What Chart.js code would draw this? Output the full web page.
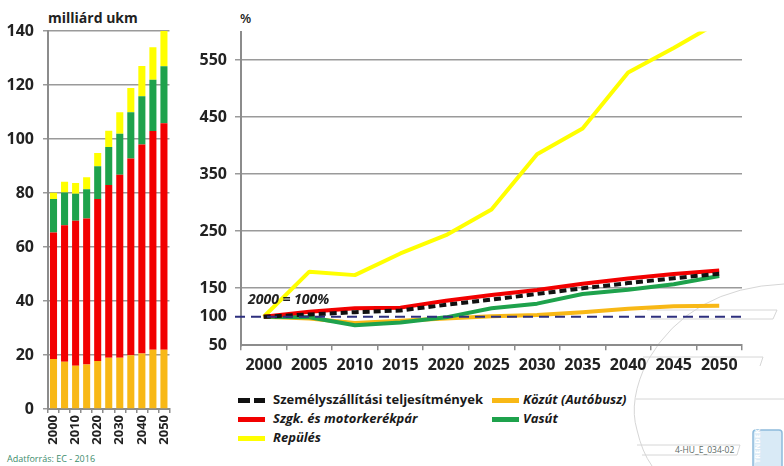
<!DOCTYPE html>
<html>
<head>
<meta charset="utf-8">
<script src="https://cdn.jsdelivr.net/npm/chart.js@4.4.1/dist/chart.umd.min.js"></script>
<style>
  body { margin: 0; background: #fff; font-family: "Open Sans", sans-serif; }
  #wrap { position: relative; width: 784px; height: 466px; overflow: hidden; }
  #barBox { position: absolute; left: 0; top: 0; width: 182px; height: 460px; }
  #lineBox { position: absolute; left: 190px; top: 0; width: 560px; height: 380px; }
  .note { position: absolute; white-space: nowrap; color: #222; }
  .leg { position: absolute; height: 18px; line-height: 18px; font-size: 13px; font-weight: 700; color: #1a1a1a; white-space: nowrap; }
  .leg i { font-style: italic; }
  .sw { position: absolute; left: 0; top: 7px; width: 27px; height: 5px; }
  .leg span.t { position: absolute; top: -1px; }
  #decor { position: absolute; left: 0; top: 0; }
</style>
</head>
<body>
<div id="wrap">
  <svg id="decor" width="784" height="466">
    <g fill="none" stroke="#d6d6d6" stroke-width="1">
      <path d="M 784 284 Q 690 288 648 360 Q 628 400 637 430 Q 642 452 652 466"/>
      <path d="M 647 310 L 777 310 L 773 319 L 650 319"/>
      <path d="M 643 357 L 763 357 L 760 366"/>
      <path d="M 636 399 L 784 399"/>
      <path d="M 637 445 L 740 445 L 737 455 L 642 455"/>
    </g>
    <rect x="753" y="430" width="29" height="40" rx="3" fill="#d9eaf6" stroke="#8dbbdc" stroke-width="1.5"/>
    <text x="0" y="0" transform="translate(760 463) rotate(-90)" font-family="Open Sans" font-size="7" font-weight="700" fill="#ffffff" letter-spacing="0.3">TRENDEK</text>
  </svg>

  <div class="note" style="left:48px; top:8px; font-size:14px; font-weight:700;">milliárd ukm</div>
  <div class="note" style="left:240px; top:9px; font-size:13px; font-weight:600;">%</div>
  <div class="note" style="left:7px; top:452px; font-size:9px; color:#3d8c6c;">Adatforrás: EC - 2016</div>
  <div class="note" style="left:675px; top:444px; font-size:8.5px; color:#5d6b66;">4-HU_E_034-02</div>

  <div id="barBox"><canvas id="barChart"></canvas></div>
  <div id="lineBox"><canvas id="lineChart"></canvas></div>

  <div class="leg" style="left:238px; top:391px;"><div class="sw" style="background:linear-gradient(90deg,#111 0 12px,transparent 12px 16px,#111 16px 27px);"></div><span class="t" style="left:35px;">Személyszállítási teljesítmények</span></div>
  <div class="leg" style="left:492px; top:391px;"><div class="sw" style="background:#f8b816;"></div><span class="t" style="left:31px;"><i>Közút (Autóbusz)</i></span></div>
  <div class="leg" style="left:238px; top:410px;"><div class="sw" style="background:#f20000;"></div><span class="t" style="left:35px;"><i>Szgk. és motorkerékpár</i></span></div>
  <div class="leg" style="left:492px; top:410px;"><div class="sw" style="background:#1ea24c;"></div><span class="t" style="left:31px;"><i>Vasút</i></span></div>
  <div class="leg" style="left:238px; top:429px;"><div class="sw" style="background:#ffff00;"></div><span class="t" style="left:35px;"><i>Repülés</i></span></div>
</div>

<script>
const years = ['2000', '2005', '2010', '2015', '2020', '2025', '2030', '2035', '2040', '2045', '2050'];

// left panel, billion passenger-km (stacked)
const busKm = [18.5, 17.5, 16, 16.5, 17.8, 19, 19, 19.9, 20.6, 21.9, 21.9];
const carKm = [46.9, 50.6, 53.7, 54.1, 60, 64, 67.8, 72.9, 77.4, 81.1, 83.9];
const railKm = [12.4, 12.1, 10, 10.8, 12.1, 14, 15.1, 17.1, 17.8, 18.9, 21.1];
const airKm = [2.3, 4, 4, 4.4, 4.9, 6.1, 8, 9, 11.2, 12.1, 13.1];

// right panel, index 2000 = 100%
const totalIdx = [100, 104, 108, 111, 121, 130, 140, 150, 159, 167.5, 175.5];
const carIdx = [100, 109, 115, 116, 128, 138, 147, 158, 167, 175, 181];
const railIdx = [100, 99, 85, 90, 99, 115, 123, 140, 147.5, 157, 171.5];
const busIdx = [100, 97, 89, 93, 97, 101, 103, 108, 114, 118.5, 119.5];
const airIdx = [100, 179, 173, 211, 243, 288, 385, 430, 528, 571, 617];

const pctTicks = [50, 100, 150, 250, 350, 450, 550];
const baseValue = 100;

const YELLOW = '#ffff00', RED = '#f20000', GREEN = '#1ea24c', ORANGE = '#f8b816';
const AXIS = '#8c8c8c', GRID = '#9a9a9a', TXT = '#222';

Chart.defaults.font.family = '"Open Sans", sans-serif';
Chart.defaults.color = TXT;
Chart.defaults.animation = false;

// ---- left: stacked bars ----
new Chart(document.getElementById('barChart'), {
  type: 'bar',
  data: {
    labels: years,
    datasets: [
      { label: 'Közút', data: busKm, backgroundColor: ORANGE },
      { label: 'Szgk.', data: carKm, backgroundColor: RED },
      { label: 'Vasút', data: railKm, backgroundColor: GREEN },
      { label: 'Repülés', data: airKm, backgroundColor: YELLOW }
    ]
  },
  options: {
    responsive: true,
    maintainAspectRatio: false,
    layout: { padding: { top: 31, right: 10, left: 0, bottom: 0 } },
    datasets: { bar: { barPercentage: 0.64, categoryPercentage: 1 } },
    plugins: { legend: { display: false }, tooltip: { enabled: false } },
    scales: {
      x: {
        stacked: true,
        afterFit: function(s) { s.height = 51; },
        border: { color: AXIS, width: 2 },
        grid: { drawOnChartArea: false, tickLength: 4, color: AXIS, lineWidth: 1.5 },
        ticks: {
          autoSkip: false, minRotation: 90, maxRotation: 90, padding: 2,
          font: { size: 13, weight: 'bold' },
          callback: function(v, i) { return i % 2 === 0 ? years[i] : ''; }
        }
      },
      y: {
        stacked: true,
        min: 0, max: 140,
        afterFit: function(s) { s.width = 48; },
        border: { color: AXIS, width: 2 },
        grid: { color: GRID, lineWidth: 1.5, tickLength: 5 },
        ticks: { stepSize: 20, padding: 9, font: { size: 16, weight: 'bold' } }
      }
    }
  }
});

// ---- right: index lines ----
const refLine = {
  id: 'refLine',
  afterDatasetsDraw: function(chart) {
    const a = chart.chartArea;
    const y = chart.scales.y.getPixelForValue(baseValue);
    const ctx = chart.ctx;
    ctx.save();
    ctx.strokeStyle = '#2d2f7e';
    ctx.lineWidth = 2;
    ctx.setLineDash([10, 6]);
    ctx.beginPath();
    ctx.moveTo(a.left - 6, y);
    ctx.lineTo(a.right + 2, y);
    ctx.stroke();
    ctx.font = 'italic bold 14px "Open Sans"';
    ctx.fillStyle = TXT;
    ctx.textBaseline = 'middle';
    ctx.fillText('2000 = 100%', a.left + 7, y - 17);
    ctx.restore();
  }
};

new Chart(document.getElementById('lineChart'), {
  type: 'line',
  data: {
    labels: years,
    datasets: [
      { label: 'Személyszállítási teljesítmények', data: totalIdx, borderColor: '#111', borderDash: [7, 4] },
      { label: 'Szgk. és motorkerékpár', data: carIdx, borderColor: RED },
      { label: 'Vasút', data: railIdx, borderColor: GREEN },
      { label: 'Közút (Autóbusz)', data: busIdx, borderColor: ORANGE },
      { label: 'Repülés', data: airIdx, borderColor: YELLOW }
    ]
  },
  options: {
    responsive: true,
    maintainAspectRatio: false,
    layout: { padding: { top: 31.5, right: 8, left: 0, bottom: 0 } },
    elements: {
      line: { borderWidth: 4, tension: 0, borderCapStyle: 'butt', borderJoinStyle: 'round' },
      point: { radius: 0 }
    },
    plugins: { legend: { display: false }, tooltip: { enabled: false } },
    scales: {
      x: {
        offset: true,
        afterFit: function(s) { s.height = 34.7; },
        border: { color: AXIS, width: 2 },
        grid: { offset: true, drawOnChartArea: false, tickLength: 5, color: AXIS, lineWidth: 1.5 },
        ticks: { autoSkip: false, maxRotation: 0, padding: 6, font: { size: 16, weight: 'bold' } }
      },
      y: {
        min: 50, max: 600,
        afterFit: function(s) { s.width = 51; },
        afterBuildTicks: function(s) { s.ticks = pctTicks.map(function(v) { return { value: v }; }); },
        border: { color: AXIS, width: 2 },
        grid: {
          lineWidth: 1.5, tickLength: 6,
          color: function(c) { return c.tick && (c.tick.value === 50 || c.tick.value === baseValue) ? 'rgba(0,0,0,0)' : GRID; }
        },
        ticks: { padding: 8, font: { size: 16, weight: 'bold' } }
      }
    }
  },
  plugins: [refLine]
});
</script>
</body>
</html>
